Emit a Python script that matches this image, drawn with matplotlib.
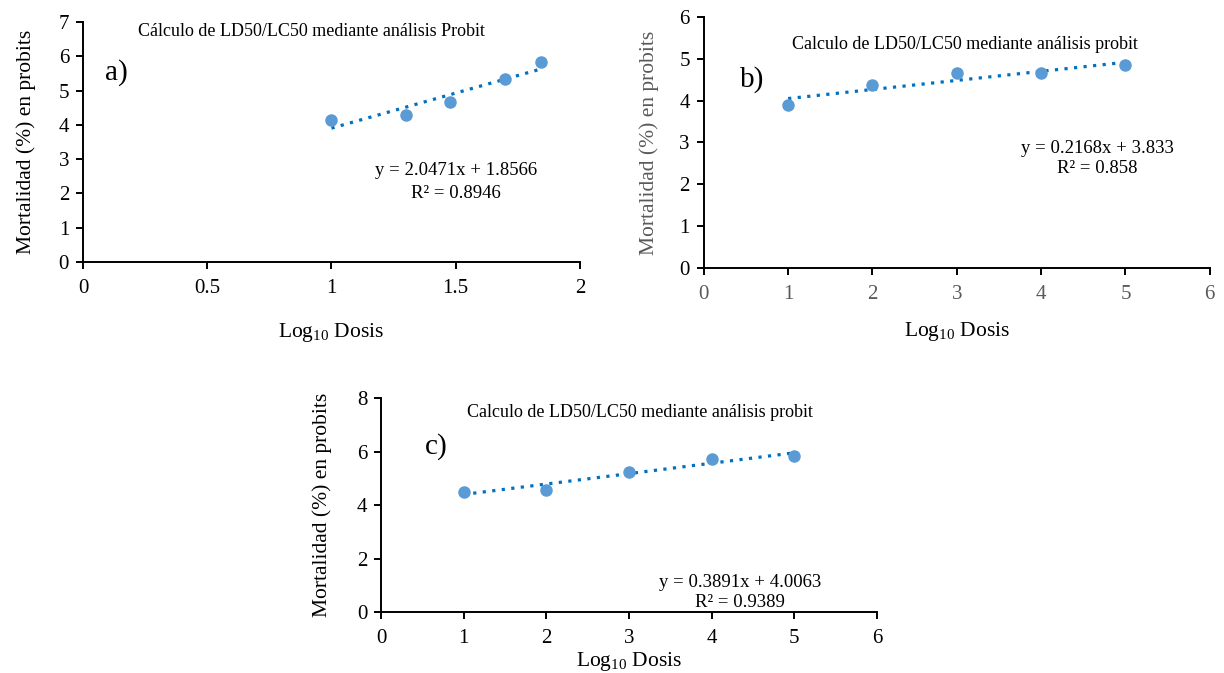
import matplotlib
matplotlib.use("Agg")
import matplotlib.pyplot as plt
import numpy as np

plt.rcParams["font.family"] = ["Liberation Serif", "DejaVu Serif"]
plt.rcParams["mathtext.fontset"] = "custom"
plt.rcParams["mathtext.rm"] = "Liberation Serif"

# a) datos
dosis_a = [1.0, 1.301, 1.477, 1.699, 1.845]
probit_a = [4.15, 4.28, 4.67, 5.33, 5.84]
coef_a = (2.0471, 1.8566)
r2_a = 0.8946

# b) datos
dosis_b = [1, 2, 3, 4, 5]
probit_b = [3.90, 4.38, 4.66, 4.66, 4.84]
coef_b = (0.2168, 3.833)
r2_b = 0.858

# c) datos
dosis_c = [1, 2, 3, 4, 5]
probit_c = [4.48, 4.58, 5.25, 5.73, 5.85]
coef_c = (0.3891, 4.0063)
r2_c = 0.9389

GRIS = "#595959"

paneles = [
    dict(pos=[0.0678, 0.6107, 0.406, 0.3566], x=dosis_a, y=probit_a, coef=coef_a, r2=r2_a,
         eq="y = 2.0471x + 1.8566", r2txt="R² = 0.8946",
         xlim=(0, 2), xticks=[0, 0.5, 1, 1.5, 2], xtl=["0", "0.5", "1", "1.5", "2"],
         ylim=(0, 7), yticks=range(0, 8),
         title="Cálculo de LD50/LC50 mediante análisis Probit", title_xy=(0.92, 6.71),
         letra="a)", letra_xy=(0.09, 5.54), eq_xy=(1.50, 2.68), r2_xy=(1.50, 2.01),
         c_xt="black", c_yt="black", c_yl="black", ylabelpad=16, xlabelpad=17),
    dict(pos=[0.575, 0.6018, 0.4134, 0.373], x=dosis_b, y=probit_b, coef=coef_b, r2=r2_b,
         eq="y = 0.2168x + 3.833", r2txt="R² = 0.858",
         xlim=(0, 6), xticks=range(0, 7), xtl=[str(i) for i in range(7)],
         ylim=(0, 6), yticks=range(0, 7),
         title="Calculo de LD50/LC50 mediante análisis probit", title_xy=(3.10, 5.33),
         letra="b)", letra_xy=(0.43, 4.5), eq_xy=(4.67, 2.85), r2_xy=(4.67, 2.37),
         c_xt=GRIS, c_yt="black", c_yl=GRIS, ylabelpad=15, xlabelpad=12),
    dict(pos=[0.3113, 0.0906, 0.4052, 0.318], x=dosis_c, y=probit_c, coef=coef_c, r2=r2_c,
         eq="y = 0.3891x + 4.0063", r2txt="R² = 0.9389",
         xlim=(0, 6), xticks=range(0, 7), xtl=[str(i) for i in range(7)],
         ylim=(0, 8), yticks=range(0, 9, 2),
         title="Calculo de LD50/LC50 mediante análisis probit", title_xy=(3.13, 7.44),
         letra="c)", letra_xy=(0.53, 6.2), eq_xy=(4.34, 1.12), r2_xy=(4.34, 0.34),
         c_xt="black", c_yt="black", c_yl="black", ylabelpad=18, xlabelpad=2),
]

fig = plt.figure(figsize=(12.24, 6.73), dpi=100)

for p in paneles:
    ax = fig.add_axes(p["pos"])
    x = np.array(p["x"], dtype=float)
    m, b = p["coef"]
    xl = np.array([x.min(), x.max()])
    ax.plot(xl, m * xl + b, linestyle=(0, (1, 2)), color="#0070C0", linewidth=2.3, zorder=2)
    ax.plot(x, p["y"], "o", color="#5B9BD5", markersize=8, zorder=3)

    ax.set_xlim(*p["xlim"])
    ax.set_ylim(*p["ylim"])
    ax.set_xticks(p["xticks"])
    ax.set_xticklabels(p["xtl"])
    ax.set_yticks(list(p["yticks"]))
    for s in ["top", "right"]:
        ax.spines[s].set_visible(False)
    for s in ["left", "bottom"]:
        ax.spines[s].set_linewidth(1.4)
        ax.spines[s].set_color("black")
    ax.tick_params(direction="out", length=5, width=1.4, labelsize=15, colors="black")
    ax.tick_params(axis="x", labelcolor=p["c_xt"], pad=7)
    ax.tick_params(axis="y", labelcolor=p["c_yt"], pad=5)

    ax.set_ylabel("Mortalidad (%) en probits", fontsize=15.5, color=p["c_yl"],
                  labelpad=p["ylabelpad"])
    ax.set_xlabel(r"Log$_{10}$ Dosis", fontsize=15.5, color="black", labelpad=p["xlabelpad"])

    ax.text(*p["title_xy"], p["title"], fontsize=13, ha="center", va="center")
    ax.text(*p["letra_xy"], p["letra"], fontsize=21, ha="left", va="center")
    ax.text(*p["eq_xy"], p["eq"], fontsize=13.5, ha="center", va="center")
    ax.text(*p["r2_xy"], p["r2txt"], fontsize=13.5, ha="center", va="center")

fig.savefig("out.png", dpi=100)
